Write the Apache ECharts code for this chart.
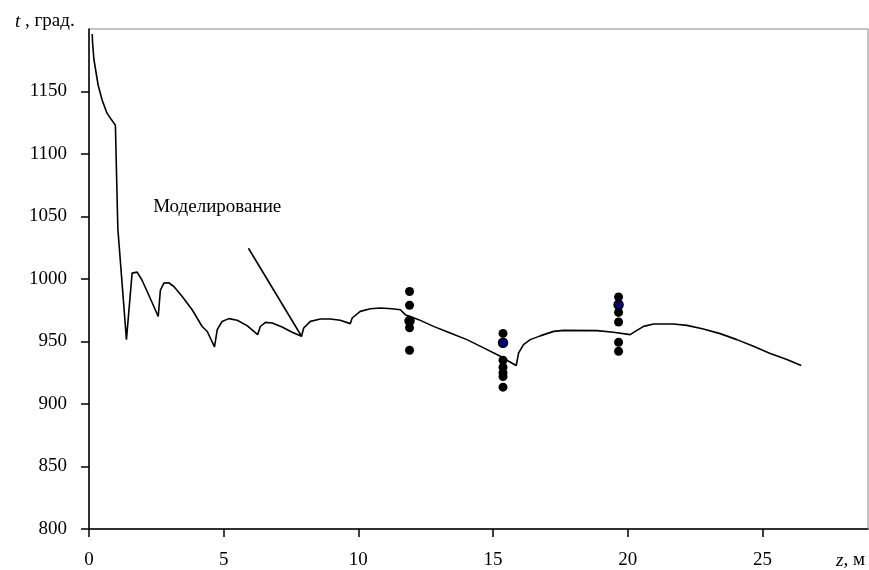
<!DOCTYPE html>
<html><head><meta charset="utf-8">
<script src="https://cdn.jsdelivr.net/npm/echarts@6/dist/echarts.min.js"></script>
<style>html,body{margin:0;padding:0;background:#fff}#c{width:869px;height:570px}</style>
</head><body><div id="c"></div>
<script>
// Model curve (z, m ; t, deg)
var modelZ = [0.12,0.13,0.18,0.34,0.49,0.67,0.98,1.07,1.39,1.60,1.79,1.97,2.16,2.35,2.57,2.65,2.78,2.96,3.15,3.46,3.83,4.20,4.39,4.66,4.76,4.94,5.19,5.50,5.87,6.26,6.36,6.55,6.80,7.17,7.54,7.89,7.97,8.22,8.59,8.96,9.33,9.70,9.77,10.07,10.45,10.82,11.25,11.56,11.74,12.24,12.79,13.41,14.03,14.65,15.27,15.58,15.86,15.95,16.13,16.38,16.75,17.25,17.62,18.86,19.47,20.09,20.28,20.59,20.96,21.70,22.20,22.81,23.43,24.05,24.67,25.29,25.91,26.44];
var modelT = [1196,1190,1176,1155,1143,1132.5,1123,1040.5,951.5,1004.7,1005.5,999,990,980.8,970,991,996.7,997,994,986,975.4,962,958,945.7,959.5,966,968.3,967,962.7,955.5,962,965.3,964.8,961.6,957.4,954.2,960.8,966.1,968,968,967,964.3,968.8,974.1,976.2,976.8,976.2,975.4,971.5,967.5,962.1,956.8,951.5,944.9,938.2,934.2,930.8,940.9,947.5,951.5,954.5,958.1,958.9,958.7,957.4,955.5,958.1,962.1,964,964,962.9,960,956.3,951.5,946.2,940.4,935.6,930.8];
// Experimental points (black)
var expZ = [11.9,11.9,11.9,11.9,11.9, 15.37,15.37,15.37,15.37,15.37,15.37, 19.66,19.66,19.66,19.66,19.66];
var expT = [990,979,967,961,943, 956.5,935,929.5,925,922,913.5, 985.6,973.3,965.6,949.4,942.2];
// Blue points
var blueZ = [11.9,15.37,19.66];
var blueT = [966.5,949,979.4];
// Annotation
var annZ = [5.92,7.89];
var annT = [1024.6,954.2];
var annLabelZ = [4.76];
var annLabelT = [1057.8];
var annText = 'Моделирование';
var xTicks = [0,5,10,15,20,25];
var yTicks = [800,850,900,950,1000,1050,1100,1150];

function zip(a,b){return a.map(function(v,i){return [v,b[i]];});}
var FONT = 'Liberation Serif';
var chart = echarts.init(document.getElementById('c'), null, {renderer:'canvas'});
chart.setOption({
  animation:false,
  backgroundColor:'#fff',
  title:{text:'{i|t} , град.', left:10, top:7, textStyle:{fontFamily:FONT,fontSize:19,fontWeight:'normal',color:'#000',
    rich:{i:{fontFamily:FONT,fontSize:19,fontStyle:'italic',color:'#000'}}}},
  graphic:[{type:'text', left:836, top:551, style:{text:'{i|z}, м', fontFamily:FONT, fontSize:19, fill:'#000',
    rich:{i:{fontFamily:FONT,fontSize:19,fontStyle:'italic',fill:'#000'}}}}],
  grid:{left:89,right:1,top:29,bottom:40,show:true,borderColor:'#888',borderWidth:1,backgroundColor:'#fff'},
  xAxis:{type:'value',min:0,max:28.92,interval:5,
    axisLine:{onZero:false,lineStyle:{color:'#000',width:1.5}},
    axisTick:{show:true,length:8,inside:false,customValues:xTicks,lineStyle:{color:'#000',width:1.5}},
    axisLabel:{customValues:xTicks,margin:22,fontFamily:FONT,fontSize:19,color:'#000',formatter:function(v){return String(v);}},
    splitLine:{show:false}},
  yAxis:{type:'value',min:800,max:1200,interval:50,
    axisLine:{show:true,onZero:false,lineStyle:{color:'#000',width:1.5}},
    axisTick:{show:true,length:8,customValues:yTicks,lineStyle:{color:'#000',width:1.5}},
    axisLabel:{customValues:yTicks,margin:22,fontFamily:FONT,fontSize:19,color:'#000',formatter:function(v){return String(v);}},
    splitLine:{show:false}},
  series:[
    {type:'line',data:zip(modelZ,modelT),showSymbol:false,symbol:'none',lineStyle:{color:'#000',width:1.6},z:2,silent:true},
    {type:'line',data:zip(annZ,annT),showSymbol:false,symbol:'none',lineStyle:{color:'#000',width:1.6},z:2,silent:true},
    {type:'scatter',data:zip(annLabelZ,annLabelT),symbolSize:0,silent:true,itemStyle:{opacity:1},
      label:{show:true,position:'inside',formatter:annText,fontFamily:FONT,fontSize:19,color:'#000',opacity:1,textBorderWidth:0},z:3},
    {type:'scatter',data:zip(blueZ,blueT),symbol:'circle',symbolSize:9,silent:true,itemStyle:{color:'#000080',borderColor:'#000',borderWidth:1.5,opacity:1},z:4},
    {type:'scatter',data:zip(expZ,expT),symbol:'circle',symbolSize:9,silent:true,itemStyle:{color:'#000',opacity:1},z:5}
  ]
});
</script></body></html>
